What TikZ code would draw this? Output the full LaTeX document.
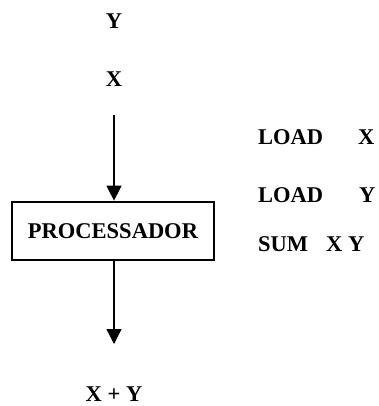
\documentclass[tikz,border=0pt]{standalone}
\usepackage{fontspec}
\setmainfont{Liberation Serif}
\usetikzlibrary{arrows.meta}
\tikzset{
  lbl/.style={font=\fontsize{22.5}{27}\selectfont\bfseries, inner sep=0pt},
  procbox/.style={draw, line width=2.7pt, minimum width=202pt, minimum height=58pt, inner sep=0pt, font=\fontsize{22.5}{27}\selectfont\bfseries},
  flow/.style={line width=1.3pt, -{Triangle[width=15pt,length=15pt]}}
}
\begin{document}
\begin{tikzpicture}[x=1pt,y=-1pt]
\useasboundingbox (0,0) rectangle (378,406);
\node[lbl, anchor=base] (ylab) at (114,29) {Y};
\node[lbl, anchor=base] (xlab) at (114,87) {X};
\coordinate (instart) at (114,115);
\node[procbox] (proc) at (113,231) {PROCESSADOR};
\coordinate (outend) at (114,344);
\node[lbl, anchor=base] (sum) at (114,401.5) {X + Y};
\draw[flow] (instart) -- (instart |- proc.north);
\draw[flow] (proc.south -| outend) -- (outend);
\node[lbl, anchor=base west] (i1) at (258,144) {LOAD\hspace{35pt}X};
\node[lbl, anchor=base west] (i2) at (258,202) {LOAD\hspace{36pt}Y};
\node[lbl, anchor=base west] (i3) at (258,251) {SUM\hspace{18pt}X Y};
\end{tikzpicture}
\end{document}
